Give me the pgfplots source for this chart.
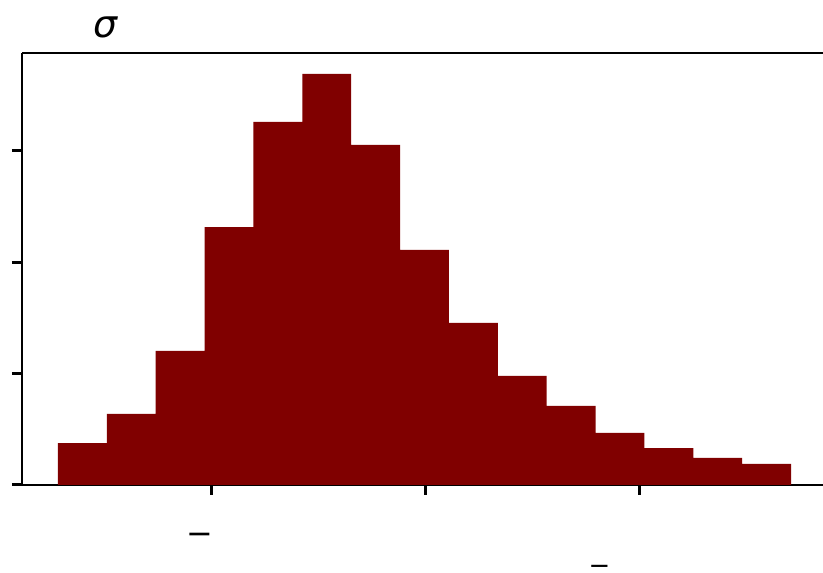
\documentclass[border=0pt]{standalone}
\usepackage{pgfplots}
\pgfplotsset{compat=1.18}
\usepackage{fontspec}
\setmainfont{DejaVu Sans}
\definecolor{barred}{HTML}{800000}
\begin{document}
\begin{tikzpicture}[x=1bp,y=1bp]
\path[use as bounding box] (0,0) rectangle (823,573);
\begin{axis}[
  at={(22bp,88bp)}, anchor=south west,
  width=801bp, height=432bp, scale only axis,
  xmin=0.11682, xmax=3.8598, ymin=0, ymax=3.880,
  axis x line*=bottom, axis y line*=left,
  axis line style={-, line width=1.8bp, black},
  xtick={1,2,3}, ytick={0,1,2,3},
  xticklabels={,,}, yticklabels={,,,},
  tick align=outside, major tick length=10bp,
  every tick/.style={line width=3bp, black},
  major tick style={line width=3bp, black},
  clip=false,
]
\addplot[ybar interval, fill=barred, draw=none] coordinates {
(0.2850,0.377) (0.5133,0.638) (0.7417,1.204) (0.9700,2.317) (1.1984,3.261)
(1.4267,3.692) (1.6551,3.054) (1.8834,2.111) (2.1118,1.455) (2.3401,0.979)
(2.5685,0.710) (2.7968,0.467) (3.0252,0.332) (3.2535,0.243) (3.4819,0.189)
(3.7103,0.189)
};
\draw[line width=1.8bp, black] (rel axis cs:0,1) -- (rel axis cs:1,1);
\end{axis}
\node[font=\fontsize{38}{40}\selectfont\itshape, anchor=center] at (105,546) {σ};
\node[font=\fontsize{32}{34}\selectfont, anchor=center, inner sep=0pt] at (200,34) {−};
\node[font=\fontsize{26}{28}\selectfont, anchor=center, inner sep=0pt] at (599.5,3) {−};
\end{tikzpicture}
\end{document}
